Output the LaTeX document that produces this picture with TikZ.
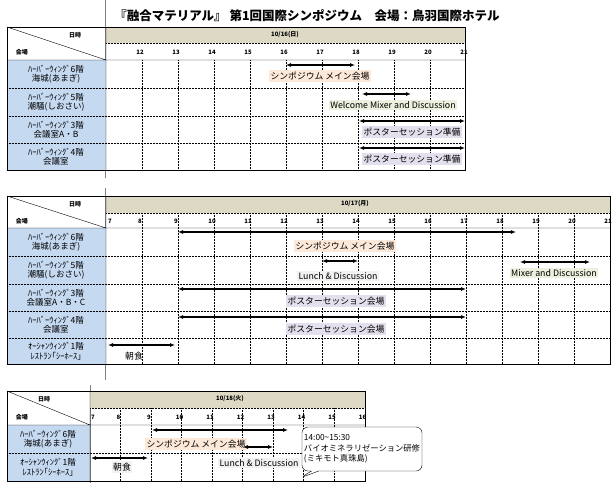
\documentclass[tikz,border=0pt]{standalone}
\usepackage{fontspec}
\setmainfont{Noto Sans CJK JP}
\usetikzlibrary{arrows.meta,positioning,shapes.callouts}
\definecolor{lblue}{HTML}{C5D9F1}
\definecolor{datebg}{HTML}{DDD9C4}
\definecolor{peach}{HTML}{FDE9D9}
\definecolor{mint}{HTML}{EBF1DE}
\definecolor{lilac}{HTML}{E4DFEC}
\definecolor{lgrey}{HTML}{F2F2F2}
\tikzset{
  evarrow/.style={{Latex[length=5pt,width=4pt]}-{Latex[length=5pt,width=4pt]},line width=1.4pt},
  evlabel/.style={font=\fontsize{8.8}{10}\selectfont,inner sep=1.5pt},
  hour/.style={font=\fontsize{6}{6}\selectfont\bfseries,inner sep=0pt},
  room/.style={font=\fontsize{8.5}{9.5}\selectfont,align=center,inner sep=0pt},
  grid/.style={densely dotted,line width=0.5pt},
}
\begin{document}
\begin{tikzpicture}[x=1pt,y=-1pt]
    \useasboundingbox (0,0) rectangle (615,483);
    \node[font=\fontsize{12.5}{14}\selectfont\bfseries] (title) at (307,16) {『融合マテリアル』 第1回国際シンポジウム　会場：鳥羽国際ホテル};
    \draw[gray,line width=1pt] (105,0) -- (105,178);
    \draw[gray,line width=1pt] (105,188) -- (105,380);
    \draw[gray,line width=1pt] (90,385) -- (90,483);

    % 10/16
    \fill[lblue] (7,60) rectangle (106,170);
    \fill[datebg] (106,27) rectangle (465,43);
    \foreach \h in {12,...,20}
        \draw[grid] ({142+36*(\h-12)},60) -- ({142+36*(\h-12)},170);
    \foreach \h in {12,...,21}
        \node[hour] at ({140+36*(\h-12)},52) {\h};
    \draw[grid] (106,43) -- (465,43);
    \foreach \y in {88,116,143}
        \draw[grid] (7,\y) -- (465,\y);
    \draw (7,60) -- (465,60) (106,27) -- (106,170) (7,27) -- (106,60);
    \draw (7,27) rectangle (465,170);
    \node[hour] at (285,35) {10/16(日)};
    \node[font=\fontsize{6}{6}\selectfont\bfseries] at (75,35) {日時};
    \node[font=\fontsize{6}{6}\selectfont\bfseries] at (22,52) {会場};
    \node[room] at (56,74) {ﾊｰﾊﾞｰｳｨﾝｸﾞ6階\\海城(あまぎ)};
    \node[room] at (56,102) {ﾊｰﾊﾞｰｳｨﾝｸﾞ5階\\潮騒(しおさい)};
    \node[room] at (56,129.5) {ﾊｰﾊﾞｰｳｨﾝｸﾞ3階\\会議室A・B};
    \node[room] at (56,156.5) {ﾊｰﾊﾞｰｳｨﾝｸﾞ4階\\会議室};
    \coordinate (a1s) at (286,65); \coordinate (a1e) at (355,65);
    \draw[evarrow] (a1s) -- (a1e);
    \node[evlabel,fill=peach] (sym1) at (320,76) {シンポジウム\ メイン会場};
    \coordinate (a2s) at (362,94); \coordinate (a2e) at (411,94);
    \draw[evarrow] (a2s) -- (a2e);
    \node[evlabel,fill=mint] (mix1) at (393,105) {Welcome Mixer and Discussion};
    \coordinate (a3s) at (359,121); \coordinate (a3e) at (465,121);
    \draw[evarrow] (a3s) -- (a3e);
    \node[evlabel,fill=lilac] (pos1) at (412,132) {ポスターセッション準備};
    \coordinate (a4s) at (359,148); \coordinate (a4e) at (465,148);
    \draw[evarrow] (a4s) -- (a4e);
    \node[evlabel,fill=lilac] (pos2) at (412,159) {ポスターセッション準備};

    % 10/17
    \fill[lblue] (7,228) rectangle (106,364);
    \fill[datebg] (106,196) rectangle (610,213);
    \foreach \h in {8,...,20}
        \draw[grid] ({142+36*(\h-8)},213) -- ({142+36*(\h-8)},364);
    \foreach \h in {7,...,21}
        \node[hour] at ({max(110,140+36*(\h-8))},221) {\h};
    \draw[grid] (106,213) -- (610,213);
    \foreach \y in {256,284,311,338}
        \draw[grid] (7,\y) -- (610,\y);
    \draw (7,228) -- (610,228) (106,196) -- (106,364) (7,196) -- (106,228);
    \draw (7,196) rectangle (610,364);
    \node[hour] at (355,204) {10/17(月)};
    \node[font=\fontsize{6}{6}\selectfont\bfseries] at (75,204) {日時};
    \node[font=\fontsize{6}{6}\selectfont\bfseries] at (22,221) {会場};
    \node[room] at (56,242) {ﾊｰﾊﾞｰｳｨﾝｸﾞ6階\\海城(あまぎ)};
    \node[room] at (56,270) {ﾊｰﾊﾞｰｳｨﾝｸﾞ5階\\潮騒(しおさい)};
    \node[room] at (56,297.5) {ﾊｰﾊﾞｰｳｨﾝｸﾞ3階\\会議室A・B・C};
    \node[room] at (56,324.5) {ﾊｰﾊﾞｰｳｨﾝｸﾞ4階\\会議室};
    \node[room] at (56,351) {ｵｰｼｬﾝｳｨﾝｸﾞ1階\\ﾚｽﾄﾗﾝ｢ｼｰﾎｰｽ｣};
    \coordinate (b1s) at (178,232); \coordinate (b1e) at (516,232);
    \draw[evarrow] (b1s) -- (b1e);
    \node[evlabel,fill=peach] (sym2) at (345,246) {シンポジウム\ メイン会場};
    \coordinate (b2s) at (322,261); \coordinate (b2e) at (358,261);
    \draw[evarrow] (b2s) -- (b2e);
    \node[evlabel,fill=lgrey] (lun2) at (338,276) {Lunch \& Discussion};
    \coordinate (b3s) at (520,262); \coordinate (b3e) at (590,262);
    \draw[evarrow] (b3s) -- (b3e);
    \node[evlabel,fill=mint] (mix2) at (554,273) {Mixer and Discussion};
    \coordinate (b4s) at (178,289); \coordinate (b4e) at (466,289);
    \draw[evarrow] (b4s) -- (b4e);
    \node[evlabel,fill=lilac] (pos3) at (336,301) {ポスターセッション会場};
    \coordinate (b5s) at (178,317); \coordinate (b5e) at (466,317);
    \draw[evarrow] (b5s) -- (b5e);
    \node[evlabel,fill=lilac] (pos4) at (336,329) {ポスターセッション会場};
    \coordinate (b6s) at (108,345); \coordinate (b6e) at (175,345);
    \draw[evarrow] (b6s) -- (b6e);
    \node[evlabel] (brk2) at (134,356) {朝食};

    % 10/18
    \fill[lblue] (7,425) rectangle (90,481);
    \fill[datebg] (90,391) rectangle (365,408);
    \foreach \h in {8,...,15}
        \draw[grid] ({90+30.5*(\h-7)},408) -- ({90+30.5*(\h-7)},481);
    \foreach \h in {7,...,16}
        \node[hour] at ({max(93,88+30.5*(\h-7))},417) {\h};
    \draw[grid] (90,408) -- (365,408) (7,453) -- (365,453);
    \draw (7,425) -- (365,425) (90,391) -- (90,481) (7,391) -- (90,425);
    \draw (7,391) rectangle (365,481);
    \node[hour] at (230,399) {10/18(火)};
    \node[font=\fontsize{6}{6}\selectfont\bfseries] at (44,399) {日時};
    \node[font=\fontsize{6}{6}\selectfont\bfseries] at (22,417) {会場};
    \node[room] at (48,439) {ﾊｰﾊﾞｰｳｨﾝｸﾞ6階\\海城(あまぎ)};
    \node[room] at (48,467) {ｵｰｼｬﾝｳｨﾝｸﾞ1階\\ﾚｽﾄﾗﾝ｢ｼｰﾎｰｽ｣};
    \coordinate (c1s) at (152,430); \coordinate (c1e) at (288,430);
    \draw[evarrow] (c1s) -- (c1e);
    \node[evlabel,fill=peach] (sym3) at (196,444) {シンポジウム\ メイン会場};
    \coordinate (c2s) at (243,447); \coordinate (c2e) at (273,447);
    \draw[evarrow] (c2s) -- (c2e);
    \coordinate (c3s) at (91,458); \coordinate (c3e) at (148,458);
    \draw[evarrow] (c3s) -- (c3e);
    \node[evlabel,fill=lgrey] (brk3) at (122,467) {朝食};
    \node[evlabel,fill=lgrey] (lun3) at (259,463) {Lunch \& Discussion};
    \node[draw,fill=white,rectangle callout,rounded corners=6pt,
        callout absolute pointer={(300,478)},align=left,inner sep=2pt,
        font=\fontsize{8.3}{10.5}\selectfont,minimum width=106pt,minimum height=44pt]
        (note) at (362,449) {14:00\textasciitilde15:30\\バイオミネラリゼーション研修\\(ミキモト真珠島)};
\end{tikzpicture}
\end{document}
